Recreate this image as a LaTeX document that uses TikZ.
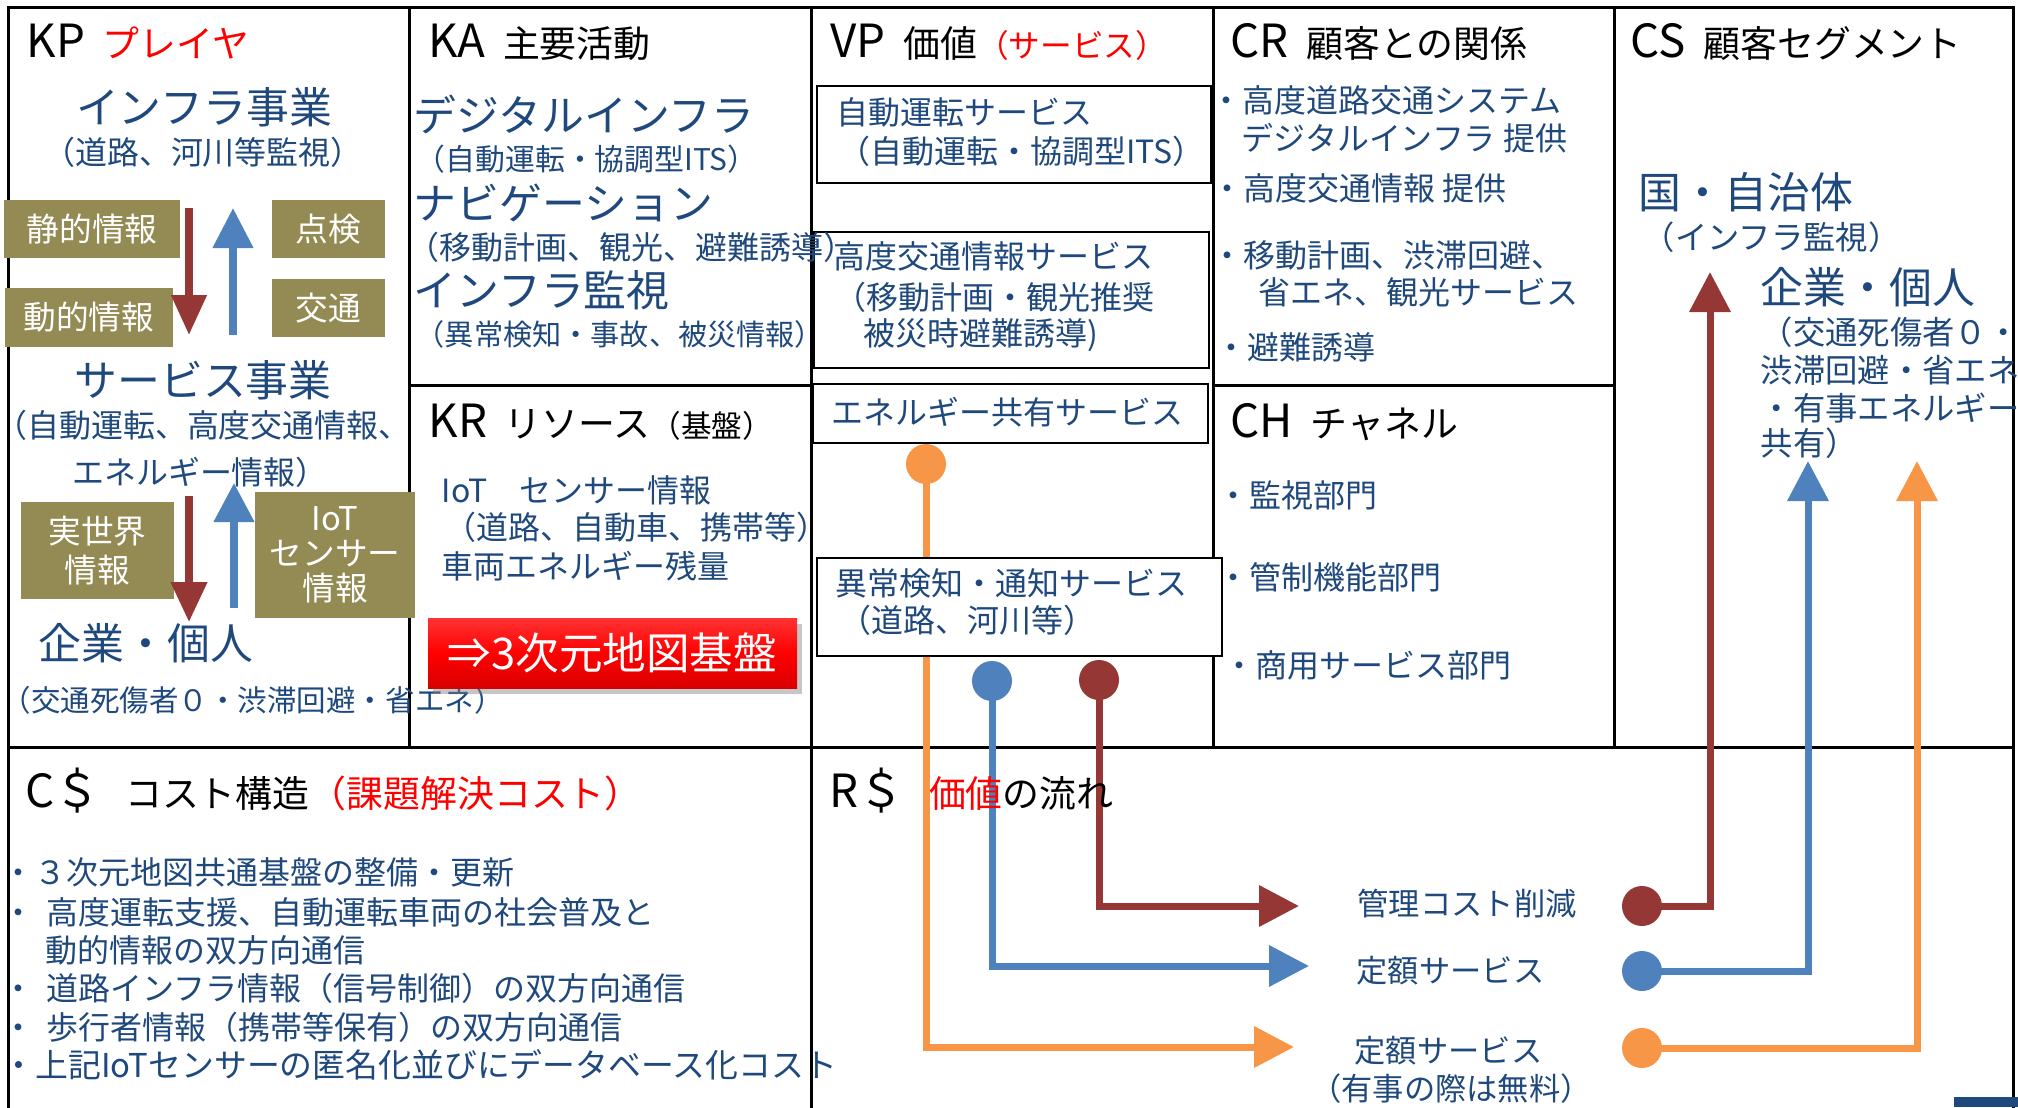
\documentclass[tikz,border=0pt]{standalone}
\usepackage{fontspec}
\setmainfont{Noto Sans CJK JP}
\usetikzlibrary{arrows.meta,shadows}
\definecolor{bluetxt}{HTML}{1F497D}
\definecolor{olivebox}{HTML}{948A54}
\definecolor{darkred}{HTML}{953735}
\definecolor{midblue}{HTML}{4F81BD}
\definecolor{orangec}{HTML}{F79646}
\definecolor{boxred}{HTML}{FF0000}
\pgfdeclarelayer{bg}
\pgfsetlayers{bg,main}
\newcommand{\fsz}[2]{\fontsize{#1pt}{#2pt}\selectfont}
\newcommand{\hj}{\fsz{10.5}{12}}
\tikzset{
  gridline/.style={line width=0.3mm, draw=black},
  hd/.style={inner sep=0pt, anchor=base west, font=\fsz{13}{15}},
  bl/.style={inner sep=0pt, text=bluetxt},
  lw/.style={bl, anchor=base west},
  lc/.style={bl, anchor=base},
  fbig/.style={font=\fsz{12.2}{14}},
  fmd/.style={font=\fsz{9.1}{11}},
  fsmA/.style={font=\fsz{8.5}{10}},
  fsmB/.style={font=\fsz{8.3}{10}},
  fsmC/.style={font=\fsz{8.4}{10}},
  fcs/.style={font=\fsz{9.2}{11}},
  frs/.style={font=\fsz{8.9}{11}},
  obox/.style={fill=olivebox, text=white, inner sep=0pt, align=center, font=\fsz{9.3}{11}},
  vbox/.style={draw=black, line width=0.2mm, fill=white, inner sep=0pt},
  redbox/.style={top color=boxred!80!white, bottom color=boxred!85!black, middle color=boxred,
    text=white, inner sep=0pt, font=\fsz{12.4}{14}, drop shadow={opacity=0.45, shadow xshift=0.5mm, shadow yshift=-0.6mm}},
  ballnode/.style={circle, inner sep=0pt, minimum size=4mm},
  flowarrow/.style={line width=0.7mm, -{Triangle[length=4mm,width=4mm]}},
  kparrow/.style={line width=0.75mm, -{Triangle[length=4mm,width=3.6mm]}},
}
\begin{document}
\begin{tikzpicture}[x=0.1mm,y=-0.1mm]
\useasboundingbox (0,0) rectangle (2018,1107);

% ---------------- VP boxes (white, below text) ----------------
\node[vbox, minimum width=39.4mm, minimum height=9.7mm] (vpb1) at (1014,134.5) {};
\node[vbox, minimum width=39.5mm, minimum height=13.6mm] (vpb2) at (1011.5,300) {};
\node[vbox, minimum width=39.5mm, minimum height=5.9mm] (vpb3) at (1010.5,413.5) {};
\node[vbox, minimum width=40.5mm, minimum height=9.8mm] (vpb4) at (1019.5,607) {};

% ---------------- KP ----------------
\node[hd] (kp) at (26,57) {KP\hspace{5pt}{\hj\textcolor{red}{プレイヤ}}};
\node[lc,fbig] (infra) at (204,123) {インフラ事業};
\node[lc,fmd] (infrasub) at (203,164) {（道路、河川等監視）};
\node[obox, minimum width=17.6mm, minimum height=5.8mm] (static) at (92,229) {静的情報};
\node[obox, minimum width=16.8mm, minimum height=5.9mm] (dynamic) at (89,317.5) {動的情報};
\node[obox, minimum width=11.3mm, minimum height=5.8mm] (inspect) at (328.5,229) {点検};
\node[obox, minimum width=11.3mm, minimum height=5.8mm] (traffic) at (328.5,308) {交通};
\node[lc,fbig] (serv) at (203,396) {サービス事業};
\node[lc,fmd] (serv1) at (203,437) {（自動運転、高度交通情報、};
\node[lc,fmd] (serv2) at (200,484) {エネルギー情報）};
\node[obox, minimum width=15.3mm, minimum height=9.7mm, font=\fsz{9.3}{11.1}] (realw) at (97.5,550.5) {実世界\\情報};
\node[obox, minimum width=16mm, minimum height=12.6mm, font=\fsz{9.3}{10}] (iotbox) at (335,555) {IoT\\センサー\\情報};
\node[lc,fbig] (corp) at (146,659) {企業・個人};
\node[lw,fsmC] (corpsub) at (1,711) {（交通死傷者０・渋滞回避・省エネ）};

\coordinate (kra1) at (189,208); \coordinate (kra2) at (189,335);
\coordinate (kba1) at (233,335); \coordinate (kba2) at (233,208);
\coordinate (krb1) at (189,496); \coordinate (krb2) at (189,622);
\coordinate (kbb1) at (234,608); \coordinate (kbb2) at (234,483);
\draw[kparrow, darkred, -{Triangle[length=4mm,width=3.4mm]}] (kra1) -- (kra2);
\draw[kparrow, midblue, -{Triangle[length=4mm,width=3.9mm]}] (kba1) -- (kba2);
\draw[kparrow, darkred, -{Triangle[length=4mm,width=3.5mm]}] (krb1) -- (krb2);
\draw[kparrow, midblue, -{Triangle[length=3.9mm,width=3.9mm]}] (kbb1) -- (kbb2);

% ---------------- KA ----------------
\node[hd] (ka) at (428,57) {KA\hspace{5pt}{\hj 主要活動}};
\node[lw,fbig] (ka1) at (413,131) {デジタルインフラ};
\node[lw,fsmA] (ka1s) at (415,170) {（自動運転・協調型ITS）};
\node[lw,fbig] (ka2) at (413,219) {ナビゲーション};
\node[lw,fmd] (ka2s) at (407,259) {（移動計画、観光、避難誘導）};
\node[lw,fbig] (ka3) at (413,306) {インフラ監視};
\node[lw,fsmB] (ka3s) at (415,345) {（異常検知・事故、被災情報）};

% ---------------- KR ----------------
\node[hd] (kr) at (428,437) {KR\hspace{5pt}{\hj リソース}{\fsz{8.7}{10}（基盤）}};
\node[lw,fmd] (kr1) at (441,502) {IoT　センサー情報};
\node[lw,fmd] (kr2) at (444,539) {（道路、自動車、携帯等）};
\node[lw,fmd] (kr3) at (441,578) {車両エネルギー残量};
\node[redbox, minimum width=36.9mm, minimum height=7mm] (map3d) at (612.5,653) {⇒3次元地図基盤};

% ---------------- VP ----------------
\node[hd] (vp) at (830,57) {VP\hspace{5pt}{\hj 価値}{\fsz{9}{10}\textcolor{red}{（サービス）}}};
\node[lw,fmd] (vp1) at (836,124) {自動運転サービス};
\node[lw,fmd] (vp1s) at (838,163) {（自動運転・協調型ITS）};
\node[lw,fmd] (vp2) at (833,268) {高度交通情報サービス};
\node[lw,fmd] (vp2s) at (834,309) {（移動計画・観光推奨};
\node[lw,fmd] (vp2t) at (863,345) {被災時避難誘導)};
\node[lw,fmd] (vp3) at (831,424) {エネルギー共有サービス};
\node[lw,fmd] (vp4) at (835,595) {異常検知・通知サービス};
\node[lw,fmd] (vp4s) at (839,632) {（道路、河川等）};

% ---------------- CR ----------------
\node[hd] (cr) at (1230,57) {CR\hspace{5pt}{\hj 顧客との関係}};
\node[lw,fmd] (cr1) at (1210,112) {・高度道路交通システム};
\node[lw,fmd] (cr1b) at (1241,150) {デジタルインフラ 提供};
\node[lw,fmd] (cr2) at (1211,200) {・高度交通情報 提供};
\node[lw,fmd] (cr3) at (1211,267) {・移動計画、渋滞回避、};
\node[lw,fmd] (cr3b) at (1258,304) {省エネ、観光サービス};
\node[lw,fmd] (cr4) at (1215,359) {・避難誘導};

% ---------------- CH ----------------
\node[hd] (ch) at (1230,437) {CH\hspace{5pt}{\hj チャネル}};
\node[lw,fmd] (ch1) at (1217,507) {・監視部門};
\node[lw,fmd] (ch2) at (1217,589) {・管制機能部門};
\node[lw,fmd] (ch3) at (1223,677) {・商用サービス部門};

% ---------------- CS ----------------
\node[hd] (csg) at (1630,57) {CS\hspace{5pt}{\hj 顧客セグメント}};
\node[lw,fbig] (gov) at (1638,208) {国・自治体};
\node[lw,fcs] (govsub) at (1642,249) {（インフラ監視）};
\node[lw,fbig] (corp2) at (1760,303) {企業・個人};
\node[lw,fcs] (cs1) at (1760,344) {（交通死傷者０・};
\node[lw,fcs] (cs2) at (1760,382) {渋滞回避・省エネ};
\node[lw,fcs] (cs3) at (1760,420) {・有事エネルギー};
\node[lw,fcs] (cs4) at (1760,455) {共有）};

% ---------------- C$ ----------------
\node[hd] (cost) at (25,807) {C＄\hspace{7pt}{\hj コスト構造\textcolor{red}{（課題解決コスト）}}};
\node[lw,fmd] (c1) at (2,884) {・３次元地図共通基盤の整備・更新};
\node[lw,fmd] (c2) at (2,924) {・\hspace{3.5pt}高度運転支援、自動運転車両の社会普及と};
\node[lw,fmd] (c2b) at (45,962) {動的情報の双方向通信};
\node[lw,fmd] (c3) at (2,1000) {・\hspace{3.5pt}道路インフラ情報（信号制御）の双方向通信};
\node[lw,fmd] (c4) at (2,1039) {・\hspace{3.5pt}歩行者情報（携帯等保有）の双方向通信};
\node[lw,font=\fsz{9.35}{11}] (c5) at (2,1077) {・上記IoTセンサーの匿名化並びにデータベース化コスト};

% ---------------- R$ ----------------
\node[hd] (rev) at (829,807) {R＄\hspace{7pt}{\hj\textcolor{red}{価値}の流れ}};
\node[lw,frs] (lbl1) at (1357,915) {管理コスト削減};
\node[lw,frs] (lbl2) at (1356,982) {定額サービス};
\node[lw,frs] (lbl3) at (1354,1062) {定額サービス};
\node[lc,frs] (lbl3b) at (1451,1100) {（有事の際は無料）};

% circles
\node[ballnode, fill=orangec] (oc1) at (926,464) {};
\node[ballnode, fill=midblue] (bc1) at (992,681) {};
\node[ballnode, fill=darkred] (rc1) at (1099,680) {};
\node[ballnode, fill=darkred] (rc2) at (1642,906) {};
\node[ballnode, fill=midblue] (bc2) at (1642,971) {};
\node[ballnode, fill=orangec] (oc2) at (1642,1048) {};

\coordinate (tipR1) at (1299,906);
\coordinate (tipB1) at (1309,966);
\coordinate (tipO1) at (1294,1047);
\coordinate (tipR2) at (1710,272);
\coordinate (tipB2) at (1808,461);
\coordinate (tipO2) at (1917,461);

\fill[bluetxt] (1954,1097) rectangle (2018,1107);

\begin{pgfonlayer}{bg}
  % grid
  \draw[gridline] (8,1110) -- (8,7) -- (2013,7) -- (2013,1110);
  \draw[gridline] (409,7) -- (409,747);
  \draw[gridline] (811,7) -- (811,1110);
  \draw[gridline] (1213,7) -- (1213,747);
  \draw[gridline] (1614,7) -- (1614,747);
  \draw[gridline] (8,747) -- (2013,747);
  \draw[gridline] (409,385) -- (811,385);
  \draw[gridline] (1213,385) -- (1614,385);
  % value flows
  \draw[flowarrow, darkred] (rc1.center) |- (tipR1);
  \draw[flowarrow, midblue] (bc1.center) |- (tipB1);
  \draw[flowarrow, orangec] (oc1.center) |- (tipO1);
  \draw[flowarrow, darkred] (rc2.center) -| (tipR2);
  \draw[flowarrow, midblue] (bc2.center) -| (tipB2);
  \draw[flowarrow, orangec] (oc2.center) -| (tipO2);
\end{pgfonlayer}
\end{tikzpicture}
\end{document}
